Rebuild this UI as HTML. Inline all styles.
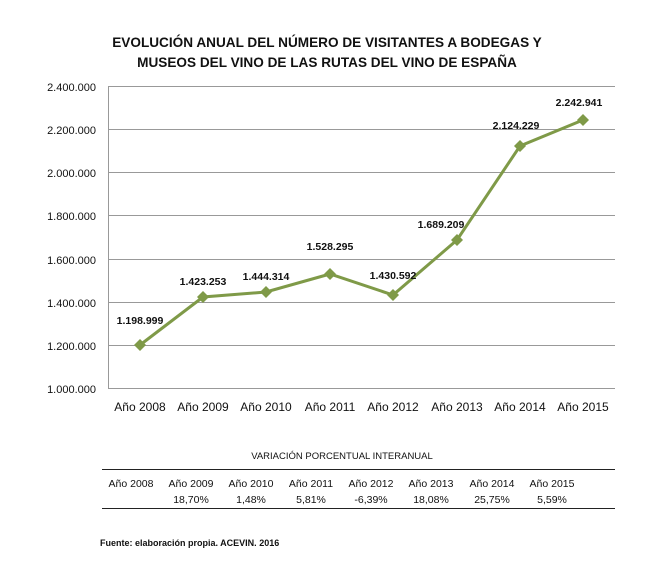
<!DOCTYPE html><html><head><meta charset="utf-8"><style>body{margin:0;background:#fff;width:654px;height:569px;overflow:hidden}svg{font-family:"Liberation Sans",sans-serif}</style></head><body>
<svg width="654" height="569" viewBox="0 0 654 569">
<text x="327" y="47" text-anchor="middle" font-size="13.6" font-weight="bold" fill="#111">EVOLUCIÓN ANUAL DEL NÚMERO DE VISITANTES A BODEGAS Y</text>
<text x="327" y="67" text-anchor="middle" font-size="13.6" font-weight="bold" fill="#111">MUSEOS DEL VINO DE LAS RUTAS DEL VINO DE ESPAÑA</text>
<g stroke="#999" stroke-width="1">
<line x1="108" y1="86.5" x2="615" y2="86.5"/><line x1="108" y1="129.5" x2="615" y2="129.5"/><line x1="108" y1="172.5" x2="615" y2="172.5"/><line x1="108" y1="215.5" x2="615" y2="215.5"/><line x1="108" y1="259.5" x2="615" y2="259.5"/><line x1="108" y1="302.5" x2="615" y2="302.5"/><line x1="108" y1="345.5" x2="615" y2="345.5"/><line x1="108" y1="388.5" x2="615" y2="388.5"/>
<line x1="108.5" y1="86" x2="108.5" y2="389"/>
</g>
<g font-size="11" fill="#111" text-anchor="end">
<text x="96" y="91">2.400.000</text><text x="96" y="134">2.200.000</text><text x="96" y="177">2.000.000</text><text x="96" y="220">1.800.000</text><text x="96" y="264">1.600.000</text><text x="96" y="307">1.400.000</text><text x="96" y="350">1.200.000</text><text x="96" y="393">1.000.000</text>
</g>
<g font-size="12" fill="#111" text-anchor="middle">
<text x="140" y="411">Año 2008</text><text x="203" y="411">Año 2009</text><text x="266" y="411">Año 2010</text><text x="330" y="411">Año 2011</text><text x="393" y="411">Año 2012</text><text x="457" y="411">Año 2013</text><text x="520" y="411">Año 2014</text><text x="583" y="411">Año 2015</text>
</g>
<polyline fill="none" stroke="#7f9a48" stroke-width="3" points="140,345 203,297 266,292 330,274 393,295 457,240 520,146 583,120"/>
<g fill="#7f9a48">
<path d="M140,339l6,6l-6,6l-6,-6z"/><path d="M203,291l6,6l-6,6l-6,-6z"/><path d="M266,286l6,6l-6,6l-6,-6z"/><path d="M330,268l6,6l-6,6l-6,-6z"/><path d="M393,289l6,6l-6,6l-6,-6z"/><path d="M457,234l6,6l-6,6l-6,-6z"/><path d="M520,140l6,6l-6,6l-6,-6z"/><path d="M583,114l6,6l-6,6l-6,-6z"/>
</g>
<g font-size="10.5" font-weight="bold" fill="#111" text-anchor="middle">
<text x="140" y="324">1.198.999</text><text x="203" y="285">1.423.253</text><text x="266" y="280">1.444.314</text><text x="330" y="250">1.528.295</text><text x="393" y="279">1.430.592</text><text x="441" y="228">1.689.209</text><text x="516" y="129">2.124.229</text><text x="579" y="106">2.242.941</text>
</g>
<text x="342" y="459" text-anchor="middle" font-size="9.5" fill="#111">VARIACIÓN  PORCENTUAL INTERANUAL</text>
<line x1="102" y1="469.5" x2="615" y2="469.5" stroke="#222"/>
<line x1="102" y1="508.5" x2="615" y2="508.5" stroke="#222"/>
<g font-size="10.5" fill="#111" text-anchor="middle">
<text x="131" y="487">Año 2008</text><text x="191" y="487">Año 2009</text><text x="251" y="487">Año 2010</text><text x="311" y="487">Año 2011</text><text x="371" y="487">Año 2012</text><text x="431" y="487">Año 2013</text><text x="492" y="487">Año 2014</text><text x="552" y="487">Año 2015</text>
<text x="191" y="503">18,70%</text><text x="251" y="503">1,48%</text><text x="311" y="503">5,81%</text><text x="371" y="503">-6,39%</text><text x="431" y="503">18,08%</text><text x="492" y="503">25,75%</text><text x="552" y="503">5,59%</text>
</g>
<text x="100" y="546" font-size="9" font-weight="bold" fill="#111">Fuente: elaboración propia. ACEVIN. 2016</text>
</svg></body></html>
